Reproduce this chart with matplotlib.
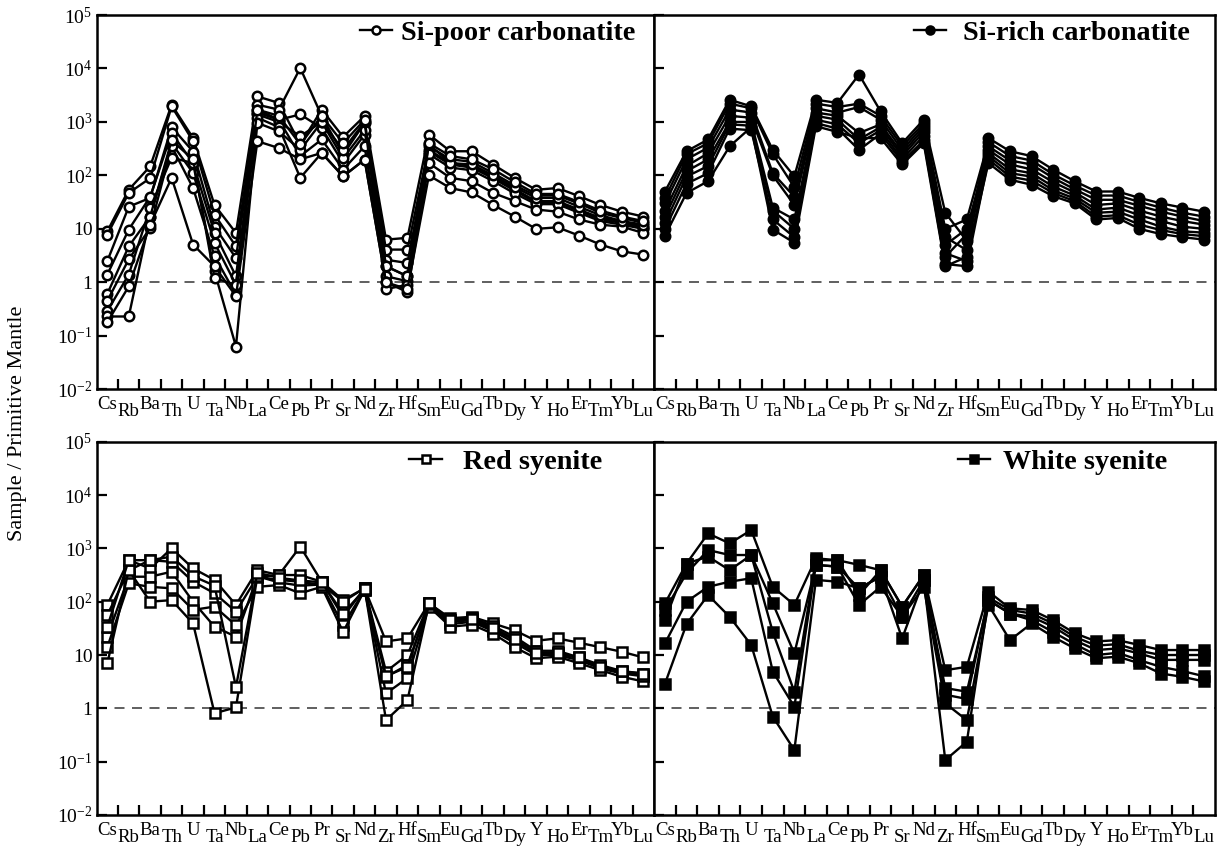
import numpy as np
import matplotlib
matplotlib.use('Agg')
import matplotlib.pyplot as plt
from matplotlib.ticker import FixedLocator, NullLocator
from matplotlib.transforms import ScaledTranslation

plt.rcParams['font.family'] = ['Liberation Serif', 'DejaVu Serif']
plt.rcParams['mathtext.fontset'] = 'custom'
plt.rcParams['mathtext.rm'] = 'Liberation Serif'
plt.rcParams['mathtext.bf'] = 'Liberation Serif:bold'

# Primitive-mantle normalised trace elements, plotting order
ELEMENTS = ['Cs', 'Rb', 'Ba', 'Th', 'U', 'Ta', 'Nb', 'La', 'Ce', 'Pb', 'Pr', 'Sr', 'Nd',
            'Zr', 'Hf', 'Sm', 'Eu', 'Gd', 'Tb', 'Dy', 'Y', 'Ho', 'Er', 'Tm', 'Yb', 'Lu']

# one row per sample, columns follow ELEMENTS
SI_POOR = [
    [9.0, 54, 148, 2100, 500, 28, 8.4, 3000, 2270, 380, 1700, 525, 1290, 6.3, 6.8, 580, 283, 283, 159, 90, 54, 58, 41, 28, 21, 17],
    [7.8, 47, 89, 1960, 436, 18.5, 4.7, 2100, 1700, 10200, 1290, 245, 960, 4.1, 4.1, 350, 200, 180, 110, 65, 42, 42, 30, 20, 16, 13],
    [2.5, 26, 38, 795, 280, 11, 2.85, 1700, 1100, 1380, 770, 170, 580, 2.65, 2.3, 300, 170, 150, 95, 55, 33, 33, 23, 16, 14, 11],
    [1.4, 9.7, 40, 620, 170, 8.4, 1.3, 1380, 1000, 540, 1000, 210, 700, 2.0, 1.3, 280, 160, 140, 88, 52, 31, 31, 22, 15, 13, 10.4],
    [0.61, 4.7, 17, 400, 111, 5.5, 0.9, 1500, 1100, 230, 470, 129, 350, 1.3, 1.05, 250, 140, 125, 78, 46, 29, 29, 20, 14, 12, 10],
    [0.45, 2.7, 10.4, 350, 58, 3.1, 0.59, 1200, 800, 90, 263, 96, 198, 1.0, 0.66, 170, 90, 78, 47, 33, 23, 21, 15, 12, 11, 8.4],
    [0.29, 1.4, 25, 215, 170, 1.6, 0.063, 960, 670, 300, 1000, 300, 1000, 0.75, 0.9, 380, 170, 160, 100, 60, 38, 38, 26, 18, 14, 12],
    [0.23, 0.23, 17, 450, 200, 1.2, 0.9, 1700, 1300, 380, 1290, 400, 1100, 2.0, 1.3, 400, 230, 200, 130, 75, 45, 45, 32, 22, 17, 14],
    [0.18, 0.84, 12, 90, 5.1, 2.0, 0.55, 436, 325, 200, 263, 96, 198, 1.0, 0.75, 100, 58, 48, 28, 17, 10, 10.7, 7.5, 5.1, 3.8, 3.3],
]

SI_RICH = [
    [50, 283, 470, 2600, 1960, 300, 96, 2600, 2270, 7700, 1580, 400, 1100, 20, 6, 500, 283, 230, 129, 78, 50, 50, 38, 30, 25, 21],
    [38, 250, 400, 2200, 1800, 250, 60, 2200, 1900, 2200, 1300, 350, 950, 10, 15, 420, 230, 190, 105, 65, 42, 42, 32, 25, 20, 17],
    [30, 200, 330, 1700, 1500, 110, 40, 1800, 1500, 1900, 1100, 300, 850, 7, 4, 350, 190, 160, 90, 55, 35, 35, 27, 21, 17, 14],
    [22, 150, 260, 1300, 1200, 100, 28, 1500, 1300, 620, 900, 260, 750, 5, 10, 300, 160, 130, 75, 48, 28, 30, 22, 17, 14, 12],
    [17, 120, 200, 1000, 1000, 25, 15, 1300, 1100, 470, 800, 230, 650, 3.5, 2.5, 260, 130, 110, 62, 42, 23, 25, 18, 14, 11, 10],
    [13, 95, 150, 900, 850, 22, 10, 1100, 900, 400, 700, 200, 550, 3, 8, 230, 110, 95, 53, 37, 20, 21, 15, 11, 9, 8.5],
    [10, 70, 110, 750, 700, 15, 7, 950, 750, 300, 600, 180, 450, 2.2, 2.0, 200, 95, 80, 47, 33, 17, 18, 12, 9.5, 8, 7.3],
    [7.5, 47, 78, 350, 800, 9.7, 5.5, 830, 650, 500, 500, 160, 400, 2.0, 3, 170, 83, 67, 41, 30, 15, 16, 10, 8, 7, 6.3],
]

RED_SYENITE = [
    [87, 600, 420, 1000, 420, 256, 87, 390, 316, 1080, 237, 107, 178, 18, 20.5, 93, 49, 52, 39, 29, 18.5, 20.5, 17, 14, 11.5, 9],
    [56, 390, 600, 560, 237, 144, 65, 294, 316, 316, 237, 52, 178, 4.9, 10, 93, 42, 45, 30, 19, 10.7, 10.7, 8.7, 6, 4.9, 4.5],
    [22, 294, 294, 365, 100, 34, 22, 294, 256, 237, 205, 36, 166, 3.9, 6.5, 85, 38, 42, 28, 17, 10, 10, 8, 5.6, 4.5, 4.0],
    [14, 220, 190, 178, 70, 81, 36, 190, 205, 144, 190, 27, 166, 1.9, 3.7, 81, 34, 37, 25, 14, 8.7, 9.3, 7, 5.2, 3.9, 3.2],
    [7, 390, 100, 107, 39, 0.81, 1.04, 300, 230, 200, 210, 100, 180, 0.6, 1.43, 90, 45, 50, 35, 22, 12, 12, 9, 6.5, 5, 4],
    [34, 600, 600, 700, 300, 200, 2.5, 350, 280, 250, 230, 60, 170, 4, 6, 95, 45, 48, 32, 20, 11, 11, 9, 6, 5, 4.5],
]

WHITE_SYENITE = [
    [93, 520, 1900, 1240, 2200, 190, 87, 650, 600, 490, 390, 81, 316, 5.2, 6, 155, 75, 70, 45, 25.7, 18, 19, 15.4, 12.4, 12.4, 12.4],
    [70, 340, 930, 750, 750, 93, 10.7, 490, 455, 178, 294, 52, 256, 2.4, 2.05, 107, 60, 52, 34, 19, 12.4, 13.3, 10.7, 8.1, 8.1, 8.1],
    [45, 520, 700, 390, 750, 27, 2.05, 600, 600, 133, 390, 81, 316, 1.8, 1.5, 120, 70, 60, 39, 22, 15, 16, 12, 10, 10, 10],
    [16.5, 100, 190, 237, 275, 4.9, 1.07, 490, 455, 87, 190, 52, 190, 1.24, 0.6, 87, 19, 39, 22, 13.3, 8.7, 9.3, 7, 4.5, 3.9, 3.2],
    [2.9, 38, 133, 52, 15.4, 0.7, 0.165, 256, 237, 178, 294, 20.5, 256, 0.107, 0.237, 107, 60, 45, 27, 16, 10, 11, 8, 6, 5, 4],
]

W, H = 1221, 847
fig = plt.figure(figsize=(W / 100, H / 100), dpi=100)


def panel(x0, x1, y0, y1):
    """Axes from pixel edges (origin top-left)."""
    return fig.add_axes([x0 / W, 1 - y1 / H, (x1 - x0) / W, (y1 - y0) / H])


def spider(ax, rows, name, marker, face, anchor, textpad, show_ylabels):
    x = np.arange(len(ELEMENTS))
    for i, row in enumerate(rows):
        ax.plot(x, row, color='black', lw=1.7, marker=marker, ms=6.8,
                mfc=face, mec='black', mew=1.8,
                label=name if i == 0 else None, zorder=3)

    ax.axhline(1, color='#444444', lw=1.2, dashes=(6, 4.5), zorder=1)

    ax.set_yscale('log')
    ax.set_ylim(1e-2, 1e5)
    ax.set_xlim(-0.5, len(ELEMENTS) - 0.5)

    # y axis: decades only, inward ticks on the left
    ax.yaxis.set_major_locator(FixedLocator(10.0 ** np.arange(-2, 6)))
    ax.yaxis.set_minor_locator(NullLocator())
    ylabels = [r'$\mathregular{10^{-2}}$', r'$\mathregular{10^{-1}}$', '1', '10',
               r'$\mathregular{10^{2}}$', r'$\mathregular{10^{3}}$',
               r'$\mathregular{10^{4}}$', r'$\mathregular{10^{5}}$']
    ax.set_yticklabels(ylabels if show_ylabels else [''] * 8)
    ax.tick_params(axis='y', which='major', direction='in', length=7, width=1.6,
                   labelsize=14, pad=3, right=False, labelleft=show_ylabels)

    # x axis: element names under each column, tick marks between columns
    ax.set_xticks(x)
    ax.set_xticklabels(ELEMENTS)
    ax.set_xticks(x[:-1] + 0.5, minor=True)
    ax.tick_params(axis='x', which='major', length=0, labelsize=13.5, pad=5)
    ax.tick_params(axis='x', which='minor', direction='in', length=7, width=1.6, top=False)

    for s in ax.spines.values():
        s.set_linewidth(1.8)

    # stagger the labels: every second element sits a little lower
    shift = ScaledTranslation(0, -0.07, fig.dpi_scale_trans)
    for i, t in enumerate(ax.xaxis.get_major_ticks()):
        if i % 2:
            t.label1.set_transform(t.label1.get_transform() + shift)

    ax.legend(loc='center right', bbox_to_anchor=anchor, frameon=False,
              borderpad=0, borderaxespad=0, handlelength=1.15, handletextpad=textpad,
              numpoints=1, markerscale=0.85,
              prop=dict(family='Liberation Serif', weight='bold', size=20.3))


ax_tl = panel(96.6, 654.0, 15.0, 389.3)
ax_tr = panel(654.2, 1214.8, 15.0, 389.3)
ax_bl = panel(96.6, 654.0, 441.7, 815.0)
ax_br = panel(654.2, 1214.8, 441.7, 815.0)

spider(ax_tl, SI_POOR, 'Si-poor carbonatite', 'o', 'white', (0.966, 0.952), 0.3, True)
spider(ax_tr, SI_RICH, 'Si-rich carbonatite', 'o', 'black', (0.956, 0.952), 0.6, False)
spider(ax_bl, RED_SYENITE, 'Red syenite', 's', 'white', (0.907, 0.946), 0.75, True)
spider(ax_br, WHITE_SYENITE, 'White syenite', 's', 'black', (0.915, 0.946), 0.45, False)

fig.text(18 / W, 0.5, 'Sample / Primitive Mantle', rotation=90,
         ha='center', va='center', fontsize=16)

fig.savefig('out.png', dpi=100)
